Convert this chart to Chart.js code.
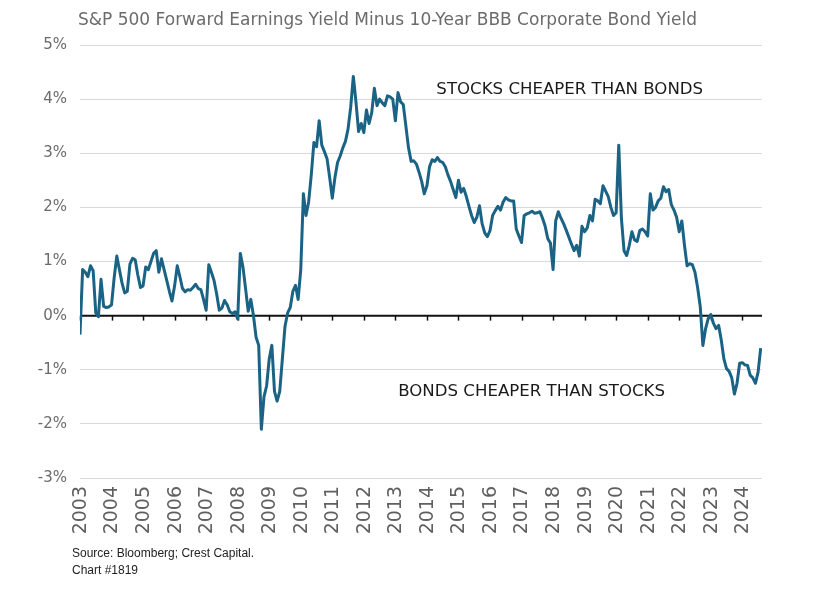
<!DOCTYPE html>
<html>
<head>
<meta charset="utf-8">
<script src="https://cdn.jsdelivr.net/npm/chart.js@4.4.1/dist/chart.umd.min.js"></script>
<style>
  body { margin: 0; background: #fff; }
  #wrap { position: relative; width: 816px; height: 593px; }
  #title { position: absolute; left: 78px; top: 9px; font: 17px "DejaVu Sans", sans-serif; color: #6b6b6b; white-space: nowrap; }
  #source { position: absolute; left: 72px; top: 545px; font: 12px "Liberation Sans Narrow", "Liberation Sans", sans-serif; color: #222; line-height: 17px; }
  canvas { position: absolute; left: 0; top: 0; }
</style>
</head>
<body>
<div id="wrap">
  <canvas id="chart" width="816" height="593"></canvas>
  <div id="title">S&amp;P 500 Forward Earnings Yield Minus 10-Year BBB Corporate Bond Yield</div>
  <div id="source">Source: Bloomberg; Crest Capital.<br>Chart #1819</div>
</div>
<script>
// Valores mensais (%), de jan/2003 a ago/2024
const y2003 = [-0.35, 0.85, 0.8, 0.72, 0.92, 0.83, 0.05, -0.02, 0.67, 0.17, 0.15, 0.16];
const y2004 = [0.2, 0.7, 1.1, 0.85, 0.6, 0.42, 0.45, 0.95, 1.06, 1.03, 0.75, 0.52];
const y2005 = [0.55, 0.9, 0.85, 1.0, 1.15, 1.2, 0.8, 1.05, 0.85, 0.65, 0.45, 0.27];
const y2006 = [0.55, 0.92, 0.72, 0.5, 0.44, 0.48, 0.47, 0.52, 0.58, 0.5, 0.48, 0.3];
const y2007 = [0.1, 0.94, 0.8, 0.65, 0.4, 0.1, 0.14, 0.28, 0.2, 0.07, 0.04, 0.07];
const y2008 = [-0.06, 1.15, 0.9, 0.5, 0.08, 0.3, 0.0, -0.4, -0.55, -2.1, -1.5, -1.3];
const y2009 = [-0.8, -0.55, -1.4, -1.58, -1.4, -0.8, -0.2, 0.05, 0.15, 0.45, 0.56, 0.3];
const y2010 = [0.85, 2.25, 1.85, 2.1, 2.6, 3.2, 3.12, 3.6, 3.15, 3.03, 2.9, 2.55];
const y2011 = [2.17, 2.55, 2.83, 2.95, 3.1, 3.22, 3.45, 3.85, 4.42, 3.95, 3.4, 3.55];
const y2012 = [3.38, 3.8, 3.55, 3.75, 4.2, 3.88, 4.0, 3.93, 3.88, 4.06, 4.04, 4.0];
const y2013 = [3.6, 4.12, 3.95, 3.9, 3.5, 3.1, 2.85, 2.86, 2.8, 2.65, 2.48, 2.25];
const y2014 = [2.4, 2.75, 2.88, 2.85, 2.92, 2.85, 2.83, 2.75, 2.6, 2.48, 2.33, 2.18];
const y2015 = [2.5, 2.28, 2.35, 2.2, 2.02, 1.85, 1.72, 1.82, 2.03, 1.7, 1.53, 1.46];
const y2016 = [1.57, 1.85, 1.94, 2.02, 1.95, 2.1, 2.18, 2.14, 2.12, 2.12, 1.6, 1.47];
const y2017 = [1.35, 1.85, 1.88, 1.9, 1.93, 1.89, 1.9, 1.92, 1.8, 1.65, 1.42, 1.34];
const y2018 = [0.85, 1.75, 1.92, 1.8, 1.7, 1.58, 1.45, 1.32, 1.2, 1.3, 1.1, 1.65];
const y2019 = [1.55, 1.62, 1.85, 1.75, 2.15, 2.12, 2.07, 2.4, 2.3, 2.2, 2.0, 1.85];
const y2020 = [1.9, 3.15, 1.8, 1.2, 1.11, 1.3, 1.55, 1.4, 1.37, 1.57, 1.6, 1.55];
const y2021 = [1.47, 2.25, 1.95, 2.0, 2.12, 2.17, 2.38, 2.29, 2.33, 2.05, 1.95, 1.82];
const y2022 = [1.55, 1.75, 1.3, 0.92, 0.96, 0.94, 0.8, 0.52, 0.17, -0.55, -0.25, -0.06];
const y2023 = [0.02, -0.14, -0.24, -0.18, -0.45, -0.8, -0.98, -1.03, -1.15, -1.45, -1.25, -0.88];
const y2024 = [-0.87, -0.91, -0.92, -1.1, -1.15, -1.25, -1.05, -0.6];

const firstYear = 2003;
const lastYear = 2024;
const yTicks = [-3, -2, -1, 0, 1, 2, 3, 4, 5];

const topNote = 'STOCKS CHEAPER THAN BONDS';
const bottomNote = 'BONDS CHEAPER THAN STOCKS';

// junta tudo numa série só, um ponto por mês
const monthly = [].concat(y2003, y2004, y2005, y2006, y2007, y2008, y2009, y2010, y2011,
  y2012, y2013, y2014, y2015, y2016, y2017, y2018, y2019, y2020, y2021, y2022, y2023, y2024);
const points = monthly.map((v, i) => ({ x: firstYear + i / 12, y: v }));

const LINE_COLOR = '#1b6385';

// linha do zero com os tracinhos dos anos + textos dentro do gráfico
const zeroAxis = {
  id: 'zeroAxis',
  beforeDatasetsDraw(chart) {
    const { ctx, chartArea, scales } = chart;
    const y0 = scales.y.getPixelForValue(0);
    ctx.save();
    ctx.strokeStyle = '#111';
    ctx.lineWidth = 2;
    ctx.beginPath();
    ctx.moveTo(chartArea.left, y0);
    ctx.lineTo(chartArea.right, y0);
    ctx.stroke();
    ctx.lineWidth = 1.5;
    scales.x.ticks.forEach(t => {
      const px = Math.round(scales.x.getPixelForValue(t.value)) + 0.5;
      ctx.beginPath();
      ctx.moveTo(px, y0);
      ctx.lineTo(px, y0 + 5);
      ctx.stroke();
    });
    ctx.restore();
  },
  afterDatasetsDraw(chart) {
    const { ctx, scales } = chart;
    ctx.save();
    ctx.fillStyle = '#1a1a1a';
    ctx.font = '16.6px "DejaVu Sans", sans-serif';
    ctx.textBaseline = 'middle';
    ctx.textAlign = 'left';
    ctx.fillText(topNote, scales.x.getPixelForValue(2014.3), scales.y.getPixelForValue(4.17));
    ctx.fillText(bottomNote, scales.x.getPixelForValue(2013.09), scales.y.getPixelForValue(-1.41));
    ctx.restore();
  }
};

const ctx = document.getElementById('chart').getContext('2d');
const chart = new Chart(ctx, {
  type: 'line',
  data: {
    datasets: [{
      data: points,
      borderColor: LINE_COLOR,
      borderWidth: 3,
      pointRadius: 0,
      tension: 0,
      borderJoinStyle: 'round',
      fill: false
    }]
  },
  options: {
    responsive: false,
    animation: false,
    layout: { padding: { left: 0, right: 54, top: 45, bottom: 45 } },
    plugins: {
      legend: { display: false },
      tooltip: { enabled: false }
    },
    scales: {
      x: {
        type: 'linear',
        min: firstYear,
        max: firstYear + (monthly.length - 0.5) / 12,
        afterFit: s => { s.height = 70; },
        grid: { display: false, drawTicks: false },
        border: { display: false },
        ticks: {
          stepSize: 1,
          includeBounds: false,
          autoSkip: false,
          maxRotation: 90,
          minRotation: 90,
          padding: 8,
          labelOffset: 1,
          color: '#606060',
          font: { family: 'DejaVu Sans', size: 19 },
          callback: v => (Number.isInteger(v) && v <= lastYear ? String(v) : '')
        }
      },
      y: {
        min: yTicks[0],
        max: yTicks[yTicks.length - 1],
        afterFit: s => { s.width = 80; },
        grid: {
          drawTicks: false,
          lineWidth: 1,
          color: c => (c.tick && c.tick.value === 0 ? 'rgba(0,0,0,0)' : '#dadada')
        },
        border: { display: false },
        ticks: {
          stepSize: 1,
          padding: 13,
          color: '#6b6b6b',
          font: { family: 'DejaVu Sans', size: 15 },
          callback: v => v + '%'
        }
      }
    }
  },
  plugins: [zeroAxis]
});
</script>
</body>
</html>
